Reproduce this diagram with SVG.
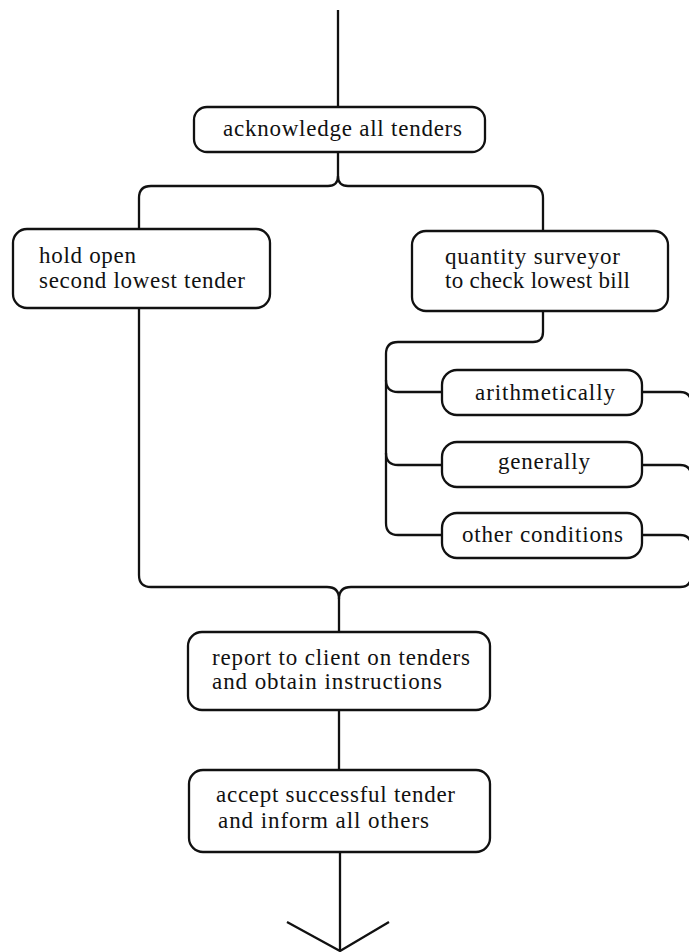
<svg xmlns="http://www.w3.org/2000/svg" width="689" height="952" viewBox="0 0 689 952">
  <style>
    .box { fill: #ffffff; stroke: #111111; stroke-width: 2.3; }
    .wire { fill: none; stroke: #111111; stroke-width: 2.3; stroke-linejoin: round; }
    .lbl { font-family: "Liberation Serif", "DejaVu Serif", serif; font-size: 23px; fill: #111111; }
  </style>
  <rect width="689" height="952" fill="#ffffff"/>

  <!-- connectors -->
  <g id="connectors" class="wire">
    <!-- incoming line -->
    <path d="M338,10 V107"/>
    <!-- split after acknowledgement -->
    <path d="M338,152 V176 Q338,186 328,186 H151 Q139,186 139,198 V229"/>
    <path d="M338,176 Q338,186 348,186 H531 Q543,186 543,198 V231"/>
    <!-- quantity surveyor checks -->
    <path d="M543,311 V332 Q543,342 533,342 H398 Q386,342 386,354 V523 Q386,535 398,535 H442"/>
    <path d="M386,380 Q386,392 398,392 H442"/>
    <path d="M386,453 Q386,465 398,465 H442"/>
    <!-- outputs of the checks to the right-hand return -->
    <path d="M642,392 H680 Q691,392 691,403 V576 Q691,587 680,587 H351 Q339,587 339,599"/>
    <path d="M642,465 H680 Q691,465 691,476"/>
    <path d="M642,535 H680 Q691,535 691,546"/>
    <!-- second lowest tender return -->
    <path d="M139,308 V575 Q139,587 151,587 H327 Q339,587 339,599 V632"/>
    <!-- report to accept -->
    <path d="M339,710 V770"/>
    <!-- outgoing line with open arrowhead -->
    <path d="M340,852 V951"/>
    <path d="M287,922 L340,951 L389,922"/>
  </g>

  <g id="acknowledge">
    <rect class="box" x="194" y="107" width="291" height="45" rx="13"/>
    <text class="lbl" x="223" y="136" textLength="239" lengthAdjust="spacing">acknowledge all tenders</text>
  </g>

  <g id="hold-open">
    <rect class="box" x="13" y="229" width="257" height="79" rx="14"/>
    <text class="lbl" x="39" y="263" textLength="97" lengthAdjust="spacing">hold open</text>
    <text class="lbl" x="39" y="288" textLength="206" lengthAdjust="spacing">second lowest tender</text>
  </g>

  <g id="quantity-surveyor">
    <rect class="box" x="412" y="231" width="256" height="80" rx="14"/>
    <text class="lbl" x="445" y="264" textLength="175" lengthAdjust="spacing">quantity surveyor</text>
    <text class="lbl" x="445" y="288" textLength="185" lengthAdjust="spacing">to check lowest bill</text>
  </g>

  <g id="arithmetically">
    <rect class="box" x="442" y="370" width="200" height="45" rx="15"/>
    <text class="lbl" x="475" y="400" textLength="140" lengthAdjust="spacing">arithmetically</text>
  </g>

  <g id="generally">
    <rect class="box" x="442" y="442" width="200" height="45" rx="15"/>
    <text class="lbl" x="498" y="469" textLength="92" lengthAdjust="spacing">generally</text>
  </g>

  <g id="other-conditions">
    <rect class="box" x="442" y="513" width="200" height="45" rx="15"/>
    <text class="lbl" x="462" y="542" textLength="161" lengthAdjust="spacing">other conditions</text>
  </g>

  <g id="report">
    <rect class="box" x="188" y="632" width="302" height="78" rx="14"/>
    <text class="lbl" x="212" y="665" textLength="258" lengthAdjust="spacing">report to client on tenders</text>
    <text class="lbl" x="212" y="689" textLength="230" lengthAdjust="spacing">and obtain instructions</text>
  </g>

  <g id="accept">
    <rect class="box" x="189" y="770" width="301" height="82" rx="14"/>
    <text class="lbl" x="216" y="802" textLength="239" lengthAdjust="spacing">accept successful tender</text>
    <text class="lbl" x="218" y="828" textLength="211" lengthAdjust="spacing">and inform all others</text>
  </g>
</svg>
